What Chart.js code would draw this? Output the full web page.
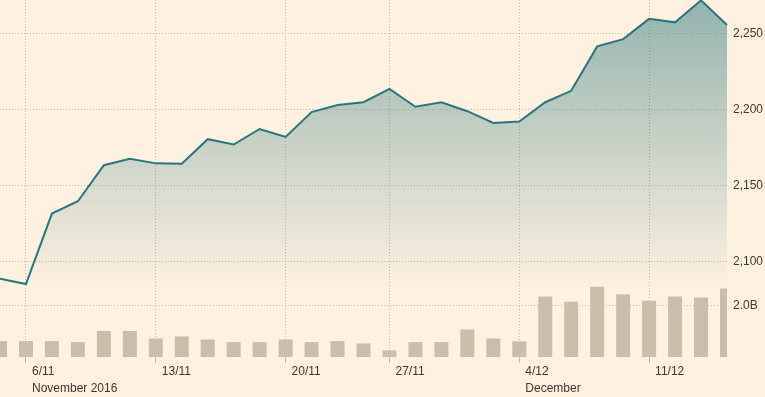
<!DOCTYPE html>
<html>
<head>
<meta charset="utf-8">
<script src="https://cdn.jsdelivr.net/npm/chart.js@4"></script>
<style>
  html, body { margin: 0; padding: 0; background: #fff1e0; }
  canvas { display: block; }
</style>
</head>
<body>
<canvas id="chart" width="765" height="397"></canvas>
<script>
// trading days, close and volume (billions)
const dates = ['3/11', '4/11', '7/11', '8/11', '9/11', '10/11', '11/11',
    '14/11', '15/11', '16/11', '17/11', '18/11',
    '21/11', '22/11', '23/11', '25/11',
    '28/11', '29/11', '30/11', '1/12', '2/12',
    '5/12', '6/12', '7/12', '8/12', '9/12',
    '12/12', '13/12', '14/12'];
const prices = [2088.7, 2085.2, 2131.5, 2139.6, 2163.3, 2167.5, 2164.5,
    2164.2, 2180.4, 2176.9, 2187.1, 2181.9,
    2198.2, 2202.9, 2204.7, 2213.4,
    2201.7, 2204.7, 2198.8, 2191.1, 2192.0,
    2204.7, 2212.2, 2241.4, 2246.2, 2259.5,
    2257.2, 2271.7, 2255.5];
const volumes = [0.62, 0.62, 0.62, 0.58, 1.01, 1.01, 0.72,
    0.80, 0.68, 0.58, 0.58, 0.68,
    0.58, 0.62, 0.53, 0.26,
    0.58, 0.58, 1.07, 0.72, 0.61,
    2.35, 2.15, 2.73, 2.44, 2.19,
    2.35, 2.31, 2.66];

// axis ticks
const tickDates = ['4/11', '11/11', '18/11', '25/11', '2/12', '9/12'];
const tickLabels = [['6/11', 'November 2016'], '13/11', '20/11', '27/11', ['4/12', 'December'], '11/12'];
const priceTicks = [2100, 2150, 2200, 2250];
const volumeTicks = [2];

const gridColor = 'rgba(150, 138, 125, 0.55)';
const textColor = '#3d3935';
const font = { family: 'Liberation Sans, Arial, sans-serif', size: 12 };

function fillGradient(context) {
    const chart = context.chart;
    const area = chart.chartArea;
    if (!area) return 'rgba(38, 119, 124, 0.3)';
    const g = chart.ctx.createLinearGradient(0, area.top, 0, area.top + 290);
    g.addColorStop(0, 'rgba(38, 119, 124, 0.5)');
    g.addColorStop(1, 'rgba(38, 119, 124, 0)');
    return g;
}

function noPadding(scale) {
    scale.paddingTop = 0;
    scale.paddingBottom = 0;
}

// volume axis takes no room of its own, its label sits in the price column
const volumeLabels = {
    id: 'volumeLabels',
    afterLayout(chart) {
        chart.scales.vol.right = chart.scales.price.right;
    }
};

const ctx = document.getElementById('chart').getContext('2d');
new Chart(ctx, {
    type: 'bar',
    data: {
        labels: dates,
        datasets: [{
            type: 'line',
            data: prices,
            yAxisID: 'price',
            borderColor: '#26777c',
            borderWidth: 2,
            backgroundColor: fillGradient,
            fill: 'start',
            pointRadius: 0,
            tension: 0,
            order: 0
        }, {
            type: 'bar',
            data: volumes,
            yAxisID: 'vol',
            backgroundColor: '#ccbdab',
            categoryPercentage: 1,
            barPercentage: 0.54,
            clip: 0,
            order: 1
        }]
    },
    plugins: [volumeLabels],
    options: {
        responsive: false,
        animation: false,
        devicePixelRatio: 1,
        layout: { padding: 0 },
        plugins: {
            legend: { display: false },
            tooltip: { enabled: false }
        },
        scales: {
            x: {
                offset: false,
                grid: {
                    offset: false,
                    color: gridColor,
                    tickColor: gridColor,
                    tickLength: 6,
                    tickBorderDash: []
                },
                border: { display: false, dash: [1, 2] },
                afterBuildTicks: (scale) => {
                    scale.ticks = scale.ticks.filter(t => tickDates.includes(dates[t.value]));
                },
                afterFit: (scale) => {
                    scale.height = 40;
                    scale.paddingLeft = 0;
                    scale.paddingRight = 0;
                },
                ticks: {
                    autoSkip: false,
                    maxRotation: 0,
                    align: 'start',
                    labelOffset: 6,
                    padding: 1,
                    color: textColor,
                    font: { ...font, lineHeight: 1.35 },
                    callback: function (value) {
                        return tickLabels[tickDates.indexOf(dates[value])];
                    }
                }
            },
            vol: {
                position: 'right',
                weight: 0,
                min: 0,
                max: 13.88,
                grid: { color: gridColor, drawTicks: false },
                border: { display: false, dash: [1, 2] },
                afterBuildTicks: (scale) => {
                    scale.ticks = volumeTicks.map(v => ({ value: v }));
                },
                afterFit: (scale) => {
                    scale.width = 0;
                    noPadding(scale);
                },
                ticks: {
                    padding: 6,
                    color: textColor,
                    font: font,
                    callback: (v) => v.toFixed(1) + 'B'
                }
            },
            price: {
                position: 'right',
                weight: 1,
                min: 2037.2,
                max: 2271.9,
                grid: { color: gridColor, drawTicks: false },
                border: { display: false, dash: [1, 2] },
                afterBuildTicks: (scale) => {
                    scale.ticks = priceTicks.map(v => ({ value: v }));
                },
                afterFit: (scale) => {
                    scale.width = 38;
                    noPadding(scale);
                },
                ticks: {
                    padding: 6,
                    color: textColor,
                    font: font,
                    callback: (v) => v.toLocaleString('en-US')
                }
            }
        }
    }
});
</script>
</body>
</html>
